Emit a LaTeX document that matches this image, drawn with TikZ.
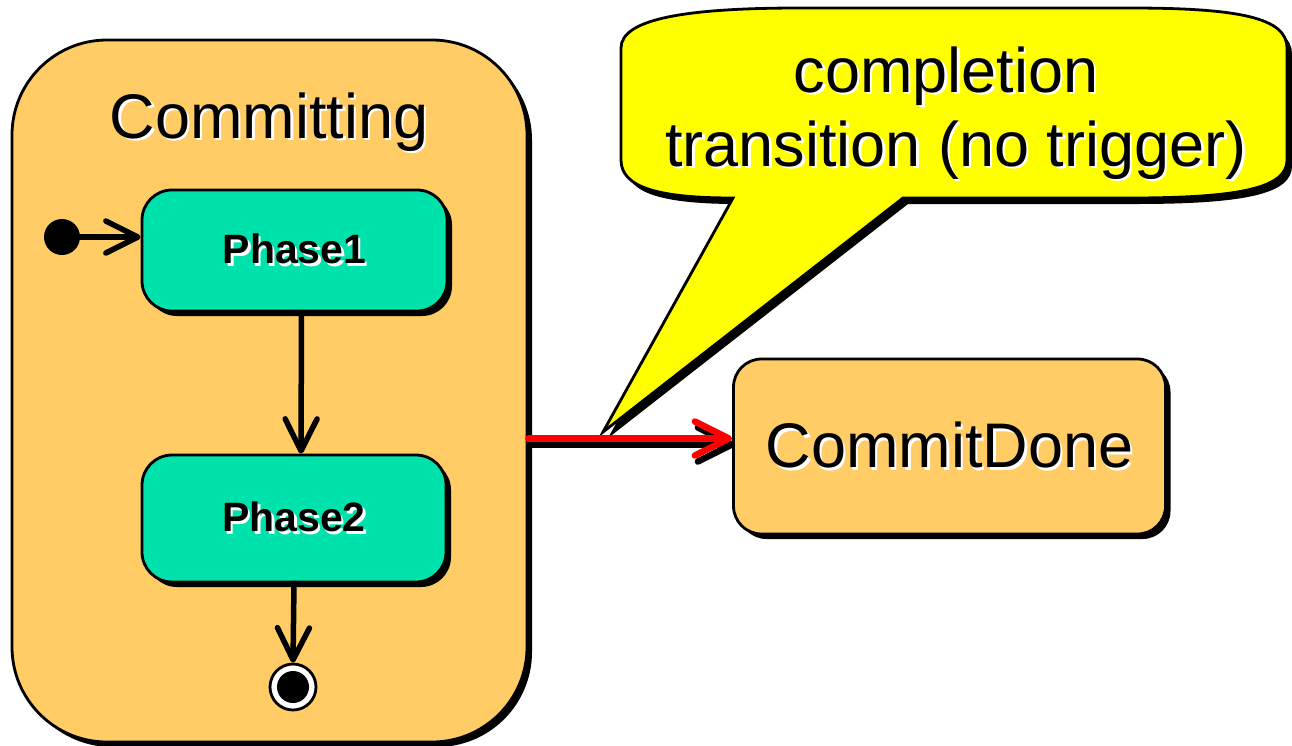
\documentclass[tikz,border=0pt]{standalone}
\usepackage{fontspec}
\setmainfont{Liberation Sans}
\usetikzlibrary{arrows.meta,shadows}
\definecolor{statefill}{HTML}{FFCC66}
\definecolor{phasefill}{HTML}{00E2AB}
\definecolor{noteyellow}{HTML}{FFFF00}
\definecolor{transred}{HTML}{FF0000}
\newcommand\shtx[1]{\makebox[0pt][l]{\kern2.5pt\raisebox{-2.5pt}{\color{white}#1}}#1}
\begin{document}
\begin{tikzpicture}[x=1pt,y=-1pt,
  shad/.style={drop shadow={shadow xshift=5pt,shadow yshift=-5pt,opacity=1,fill=black}},
  statebox/.style={draw=black,line width=2.8pt,fill=statefill,inner sep=0pt,shad},
  phasebox/.style={draw=black,line width=2.8pt,fill=phasefill,inner sep=0pt,rounded corners=30pt,shad,
     font=\fontsize{41}{41}\selectfont\bfseries},
  bigtext/.style={font=\fontsize{63}{63}\selectfont},
  trans/.style={line width=5.5pt,line cap=round,-{Straight Barb[length=32pt,width=32pt,line cap=round,line join=round]}},
  redtrans/.style={line width=6.5pt,line cap=round,-{Straight Barb[length=34pt,width=34pt,line cap=round,line join=round]}},
  notestyle/.style={draw=black,line width=2.8pt,fill=noteyellow,line join=miter}
]
\useasboundingbox (0,0) rectangle (1292,745);
\fill[white] (0,0) rectangle (1292,745);

% composite state
\node[statebox,minimum width=515pt,minimum height=702pt,rounded corners=95pt] (committing) at (269.5,391) {};
\node[bigtext,anchor=base] (committingLabel) at (269,138) {\shtx{Committing}};

% substates
\node[phasebox,minimum width=305pt,minimum height=121pt] (phase1) at (294.5,250.5) {\shtx{Phase1}};
\node[phasebox,minimum width=304pt,minimum height=127pt] (phase2) at (294,518.5) {\shtx{Phase2}};

% pseudo states
\node[circle,fill=black,inner sep=0pt,minimum size=36pt] (init) at (62,237) {};
\node[circle,draw=black,line width=2.8pt,fill=white,inner sep=0pt,minimum size=46pt,
  path picture={\fill[black] (path picture bounding box.center) circle (16pt);}] (fin) at (293,687) {};

% target state
\node[statebox,bigtext,minimum width=432pt,minimum height=175pt,rounded corners=28pt] (done) at (949.5,446.5) {\shtx{CommitDone}};

% internal transitions
\draw[trans] (init) -- (init -| phase1.west);
\draw[trans] ([xshift=7pt]phase1.south) -- ([xshift=7pt]phase2.north);
\draw[trans] (phase2.south) -- (fin.north);

% callout
\def\calloutpath{(621,48) .. controls (621,18) and (690,8) .. (800,8) -- (1130,8)
  .. controls (1240,8) and (1287,18) .. (1287,48) -- (1287,160)
  .. controls (1287,188) and (1240,198) .. (1130,198) -- (903,198) -- (603,432) -- (733,198)
  .. controls (660,198) and (621,188) .. (621,160) -- cycle}
\fill[black,shift={(5,6)}] \calloutpath;
\draw[notestyle] \calloutpath;
\node[bigtext,anchor=base] (note1) at (946,92) {\shtx{completion}};
\node[bigtext,anchor=base] (note2) at (956,166) {\shtx{transition (no trigger)}};

% completion transition
\coordinate (donein) at ([yshift=8pt]done.west);
\draw[redtrans,black,transform canvas={xshift=3pt,yshift=-6pt}] (committing.east |- donein) -- (donein);
\draw[redtrans,transred] (committing.east |- donein) -- (donein);
\end{tikzpicture}
\end{document}
